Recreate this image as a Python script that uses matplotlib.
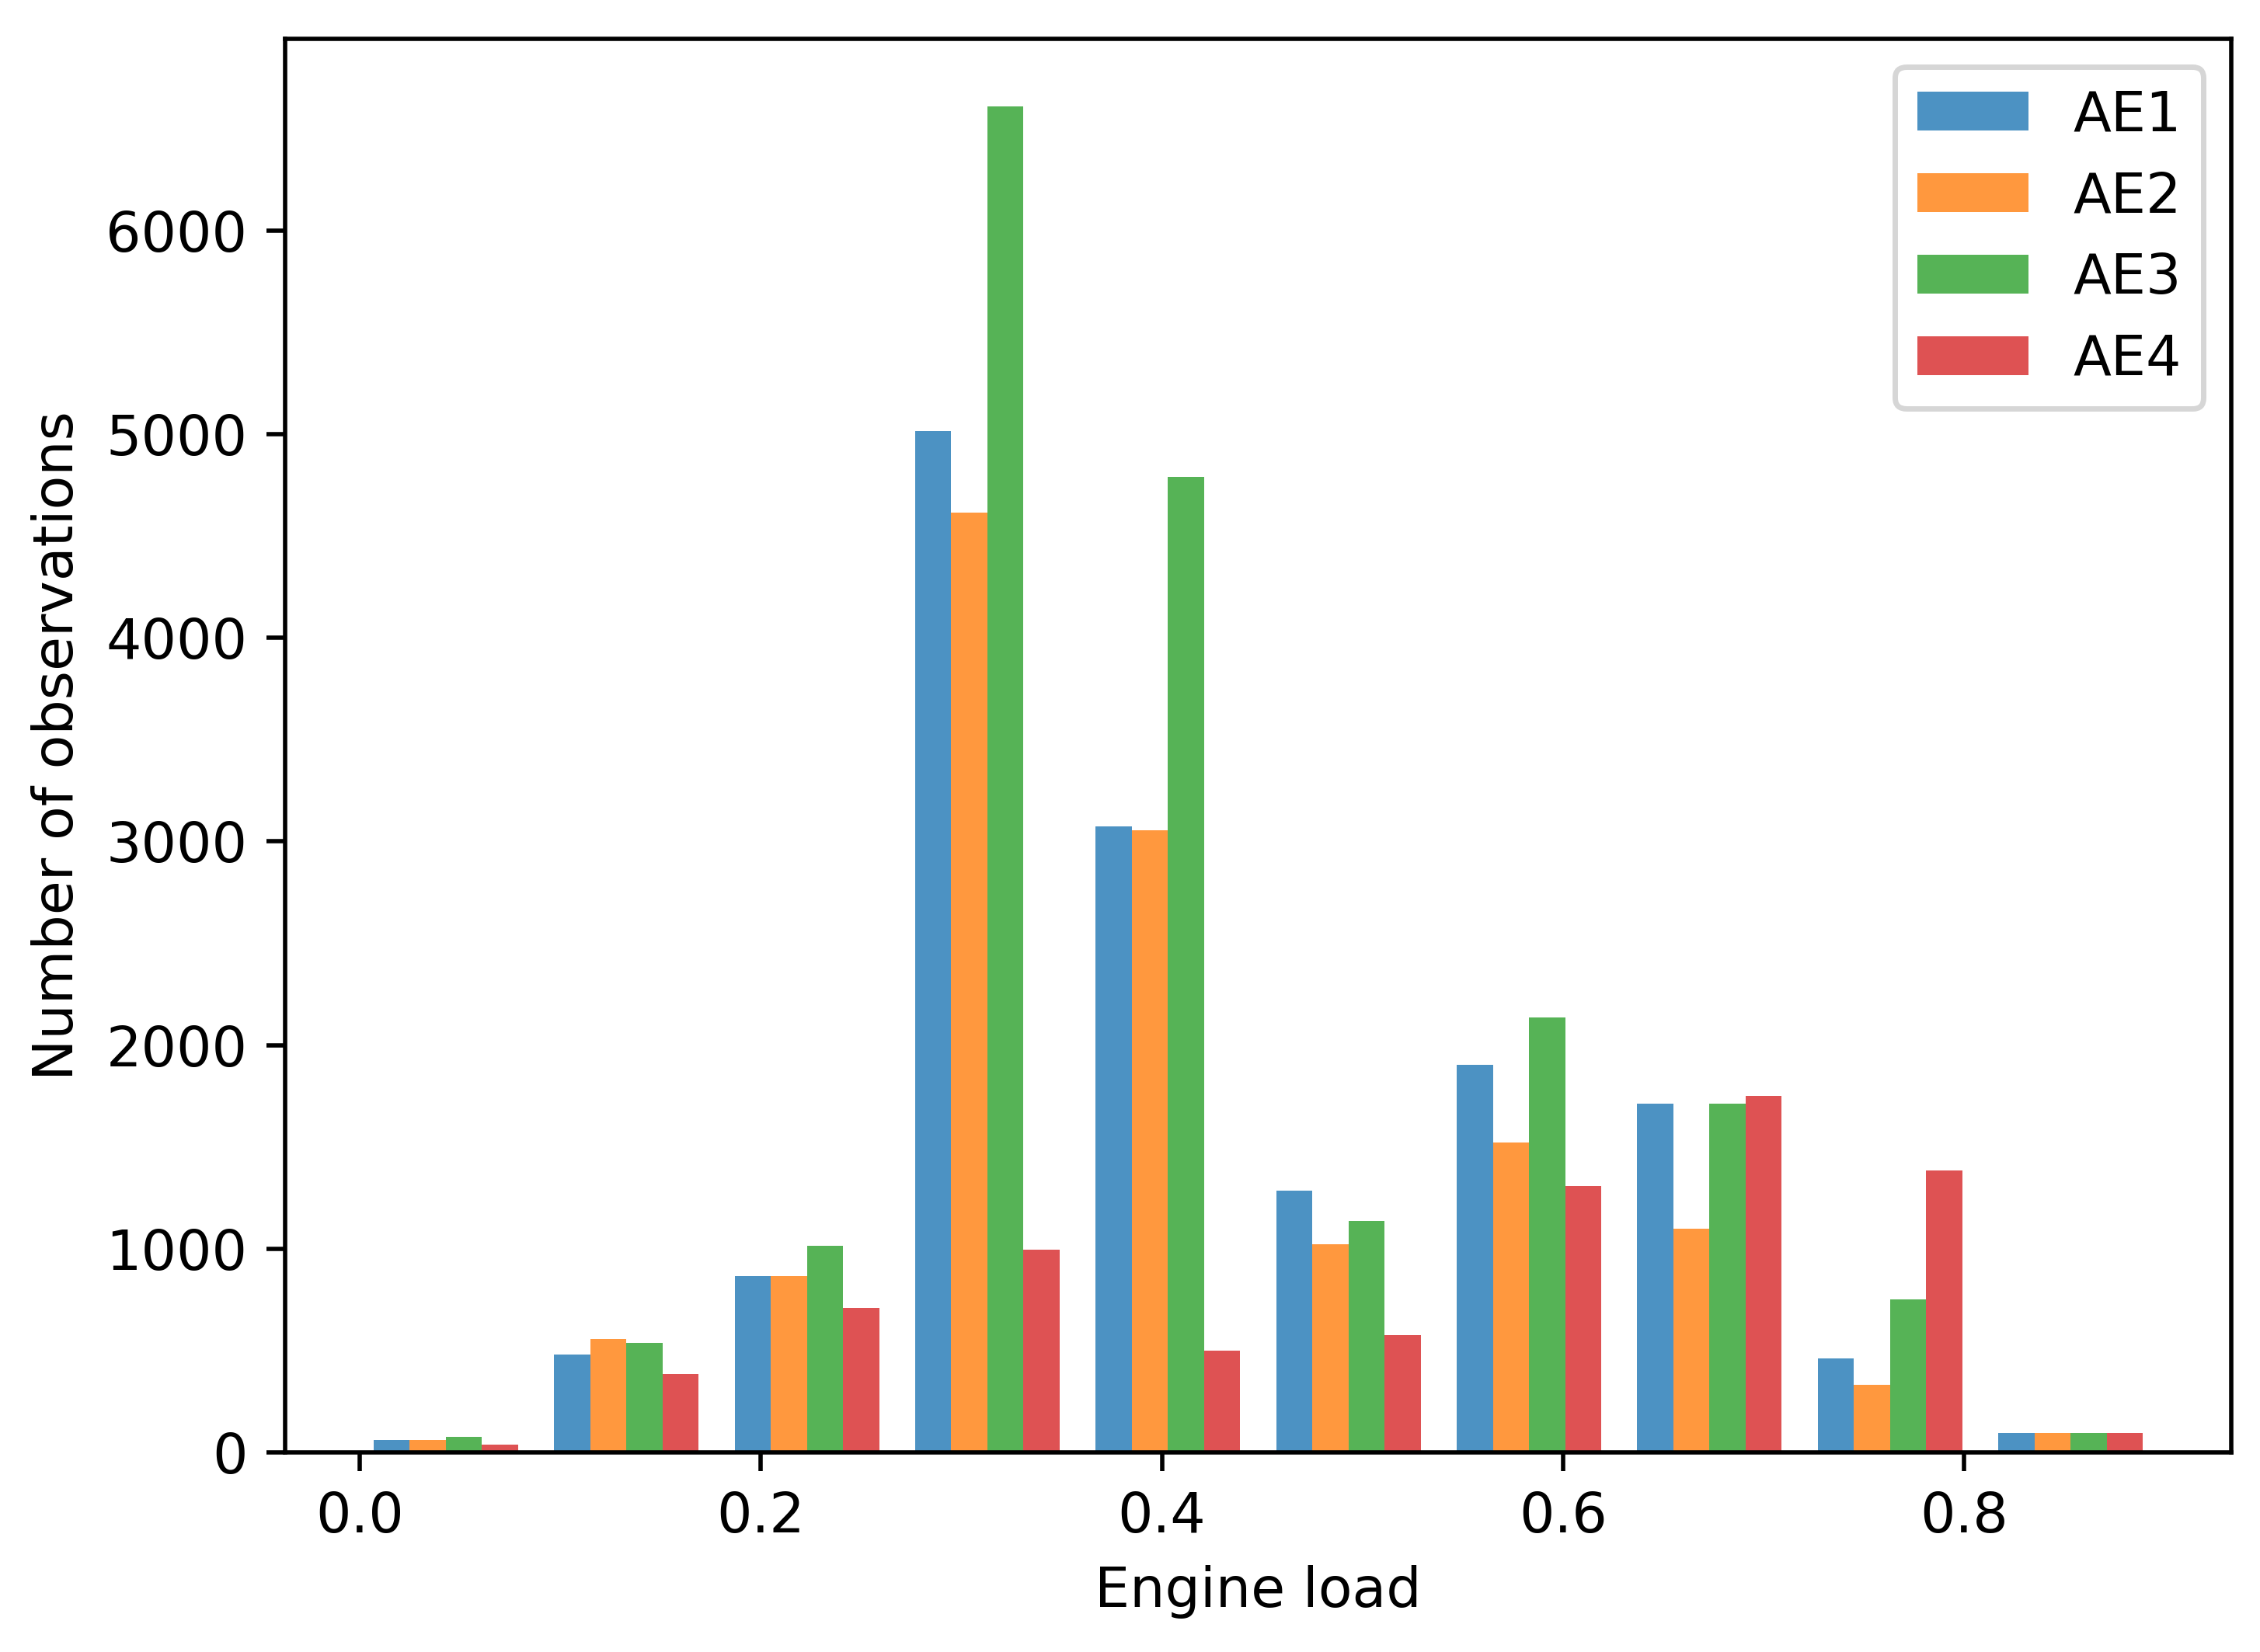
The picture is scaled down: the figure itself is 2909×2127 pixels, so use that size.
import matplotlib
matplotlib.use('Agg')
import matplotlib.pyplot as plt
import numpy as np

plt.rcParams['font.size'] = 10.3

# bin edges of the engine load histogram (10 bins)
edges = np.linspace(-0.002, 0.898, 11)
labels = ['AE1', 'AE2', 'AE3', 'AE4']

# counts per bin
ae1 = [60, 482, 865, 5015, 3075, 1287, 1903, 1711, 462, 95]
ae2 = [60, 558, 865, 4615, 3055, 1022, 1521, 1097, 331, 95]
ae3 = [78, 537, 1015, 6610, 4790, 1136, 2135, 1711, 752, 95]
ae4 = [40, 385, 710, 995, 500, 577, 1308, 1751, 1384, 95]

centers = (edges[:-1] + edges[1:]) / 2

fig = plt.figure(figsize=(2909/500, 2127/500), dpi=500)
ax = fig.add_axes([367/2909, 1-1870/2127, (2872-367)/2909, (1870-50)/2127])

ax.hist([centers]*4, bins=edges, weights=[ae1, ae2, ae3, ae4],
        label=labels, alpha=0.8)
ax.set_xlabel('Engine load')
ax.set_ylabel('Number of observations')
ax.legend(loc='upper right')

fig.savefig('out.png', dpi=500)
